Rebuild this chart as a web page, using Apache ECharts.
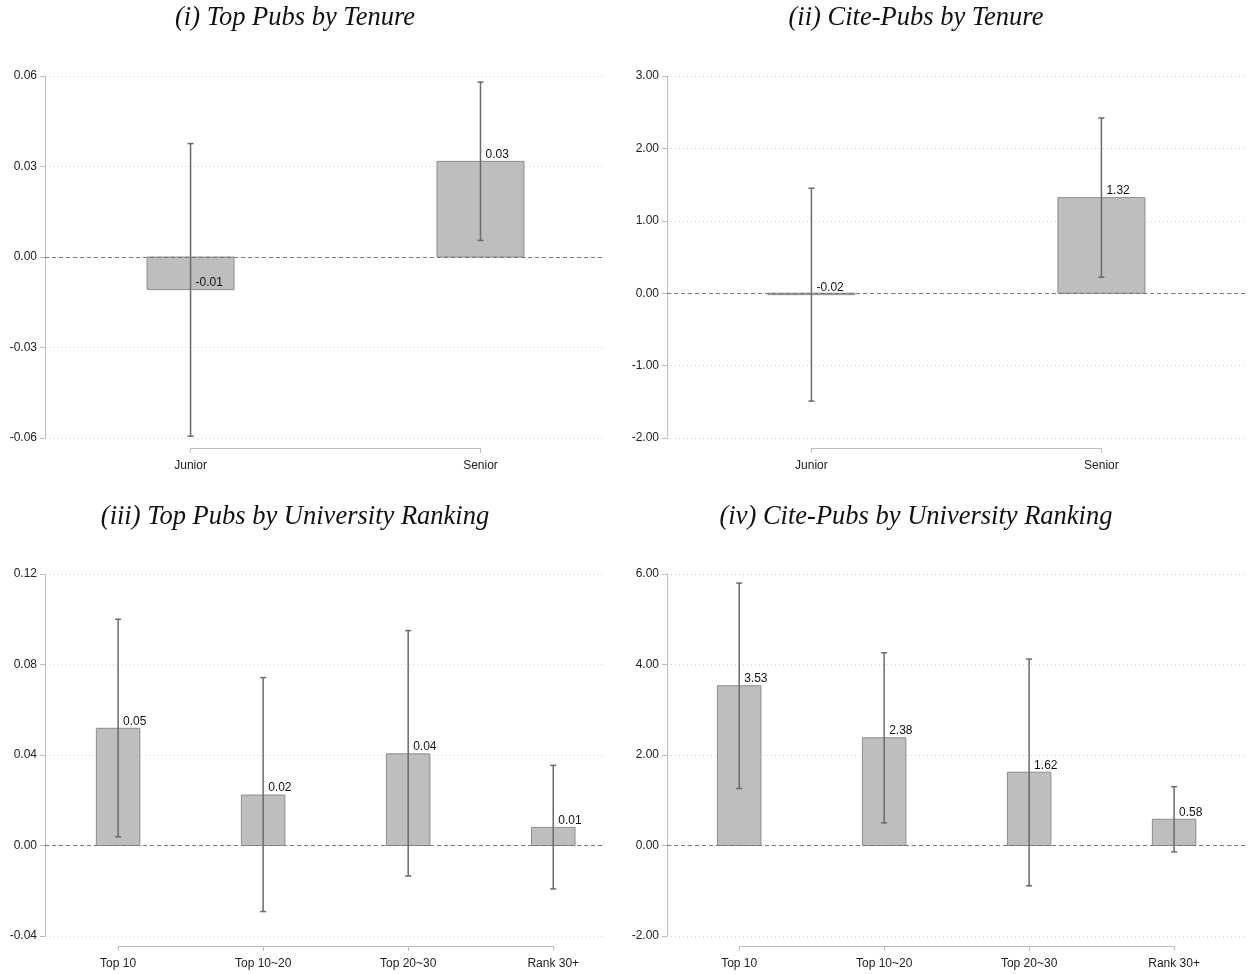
<!DOCTYPE html>
<html>
<head>
<meta charset="utf-8">
<script src="https://cdn.jsdelivr.net/npm/echarts@6/dist/echarts.min.js"></script>
<style>
html,body{margin:0;padding:0;background:#fff;}
#chart{width:1249px;height:974px;}
</style>
</head>
<body>
<div id="chart"></div>
<script>
// ---------- DATA ----------
const tenureCategories = ['Junior', 'Senior'];
const rankCategories = ['Top 10', 'Top 10~20', 'Top 20~30', 'Rank 30+'];

const topPubsTenureValues = [-0.0108, 0.0317];
const topPubsTenureLow = [-0.0594, 0.0055];
const topPubsTenureHigh = [0.0376, 0.0580];

const citePubsTenureValues = [-0.02, 1.32];
const citePubsTenureLow = [-1.49, 0.22];
const citePubsTenureHigh = [1.45, 2.42];

const topPubsRankValues = [0.0518, 0.0223, 0.0405, 0.0080];
const topPubsRankLow = [0.0038, -0.0292, -0.0135, -0.0192];
const topPubsRankHigh = [0.1000, 0.0742, 0.0950, 0.0354];

const citePubsRankValues = [3.53, 2.38, 1.62, 0.58];
const citePubsRankLow = [1.26, 0.50, -0.89, -0.14];
const citePubsRankHigh = [5.80, 4.26, 4.12, 1.30];

const panelTitles = [
  '(i) Top Pubs by Tenure',
  '(ii) Cite-Pubs by Tenure',
  '(iii) Top Pubs by University Ranking',
  '(iv) Cite-Pubs by University Ranking'
];

// ---------- LAYOUT ----------
const panels = [
  {title: panelTitles[0], cats: tenureCategories, vals: topPubsTenureValues, lo: topPubsTenureLow, hi: topPubsTenureHigh,
   left: 45, width: 559, top: 76, height: 362, xmin: -0.502, xmax: 1.426, ymin: -0.06, ymax: 0.06, yint: 0.03, titleX: 295, titleY: 18},
  {title: panelTitles[1], cats: tenureCategories, vals: citePubsTenureValues, lo: citePubsTenureLow, hi: citePubsTenureHigh,
   left: 667, width: 580, top: 76, height: 362, xmin: -0.498, xmax: 1.502, ymin: -2, ymax: 3, yint: 1, titleX: 916, titleY: 18},
  {title: panelTitles[2], cats: rankCategories, vals: topPubsRankValues, lo: topPubsRankLow, hi: topPubsRankHigh,
   left: 45, width: 559, top: 574, height: 362, xmin: -0.504, xmax: 3.35, ymin: -0.04, ymax: 0.12, yint: 0.04, titleX: 295, titleY: 517},
  {title: panelTitles[3], cats: rankCategories, vals: citePubsRankValues, lo: citePubsRankLow, hi: citePubsRankHigh,
   left: 667, width: 580, top: 574, height: 362, xmin: -0.498, xmax: 3.503, ymin: -2, ymax: 6, yint: 2, titleX: 916, titleY: 517}
];

const SANS = '"Liberation Sans", Arial, sans-serif';
const grids = [], xAxes = [], yAxes = [], series = [], graphics = [];

panels.forEach((p, k) => {
  const n = p.cats.length;
  const pxPerUnit = p.width / (p.xmax - p.xmin);
  const firstC = p.left + (0 - p.xmin) * pxPerUnit;
  const lastC = p.left + (n - 1 - p.xmin) * pxPerUnit;

  // plot grid
  const gPlot = grids.length;
  grids.push({left: p.left, top: p.top, width: p.width, height: p.height, containLabel: false});
  xAxes.push({gridIndex: gPlot, type: 'value', min: p.xmin, max: p.xmax, show: false,
    axisLine: {onZero: false}});
  yAxes.push({gridIndex: gPlot, type: 'value', min: p.ymin, max: p.ymax, interval: p.yint,
    axisLine: {show: true, onZero: false, lineStyle: {color: '#bdbdbd', width: 1}},
    axisTick: {show: true, length: 5, lineStyle: {color: '#bdbdbd'}},
    axisLabel: {color: '#222', fontSize: 12, fontFamily: SANS, margin: 8, formatter: v => v.toFixed(2)},
    splitLine: {show: true, lineStyle: {color: '#cfcfcf', type: [1, 3], width: 1}}
  });
  const xi = xAxes.length - 1, yi = yAxes.length - 1;

  const data = p.vals.map((v, i) => [i, v, p.lo[i], p.hi[i]]);
  series.push({
    type: 'custom', xAxisIndex: xi, yAxisIndex: yi, data: data, clip: false,
    renderItem: function (params, api) {
      const i = api.value(0), v = api.value(1), lo = api.value(2), hi = api.value(3);
      const a = api.coord([i - 0.15, 0]);
      const b = api.coord([i + 0.15, v]);
      const c = api.coord([i, v]);
      const l = api.coord([i, lo]);
      const h = api.coord([i, hi]);
      const y0 = Math.min(a[1], b[1]), hh = Math.abs(a[1] - b[1]);
      return {type: 'group', children: [
        {type: 'rect', shape: {x: a[0], y: y0, width: b[0] - a[0], height: Math.max(hh, 0.8)},
         style: {fill: '#bebebe', stroke: '#8c8c8c', lineWidth: 1}},
        {type: 'line', shape: {x1: c[0], y1: l[1], x2: c[0], y2: h[1]}, style: {stroke: '#6a6a6a', lineWidth: 1.5}},
        {type: 'line', shape: {x1: c[0] - 3, y1: l[1], x2: c[0] + 3, y2: l[1]}, style: {stroke: '#6a6a6a', lineWidth: 1.5}},
        {type: 'line', shape: {x1: c[0] - 3, y1: h[1], x2: c[0] + 3, y2: h[1]}, style: {stroke: '#6a6a6a', lineWidth: 1.5}},
        {type: 'text', x: c[0] + 5, y: c[1] - 1,
         style: {text: v.toFixed(2), fill: '#111', font: '12px ' + SANS, textAlign: 'left', textVerticalAlign: 'bottom'}}
      ]};
    },
    markLine: {silent: true, symbol: 'none', label: {show: false},
      lineStyle: {color: '#777', type: [4, 3], width: 1},
      data: [{yAxis: 0}]},
    z: 3
  });

  // category axis grid (axis line spans first..last category)
  const gAx = grids.length;
  grids.push({left: firstC, top: p.top, width: lastC - firstC, height: p.height, containLabel: false});
  xAxes.push({gridIndex: gAx, type: 'category', data: p.cats, boundaryGap: false, offset: 10, position: 'bottom',
    axisLine: {show: true, onZero: false, lineStyle: {color: '#bdbdbd', width: 1}},
    axisTick: {show: true, length: 5, lineStyle: {color: '#bdbdbd'}},
    axisLabel: {color: '#222', fontSize: 12, fontFamily: SANS, margin: 12},
    splitLine: {show: false}
  });
  yAxes.push({gridIndex: gAx, type: 'value', show: false, min: 0, max: 1, axisLine: {show: false, onZero: false}});

  graphics.push({type: 'text', x: p.titleX, y: p.titleY,
    style: {text: p.title, fill: '#111', font: 'italic 26.5px "Liberation Serif", "Times New Roman", serif',
      textAlign: 'center', textVerticalAlign: 'middle'}});
});

const chart = echarts.init(document.getElementById('chart'), null, {renderer: 'canvas'});
chart.setOption({
  animation: false,
  backgroundColor: '#ffffff',
  grid: grids,
  xAxis: xAxes,
  yAxis: yAxes,
  series: series,
  graphic: graphics
});
</script>
</body>
</html>
